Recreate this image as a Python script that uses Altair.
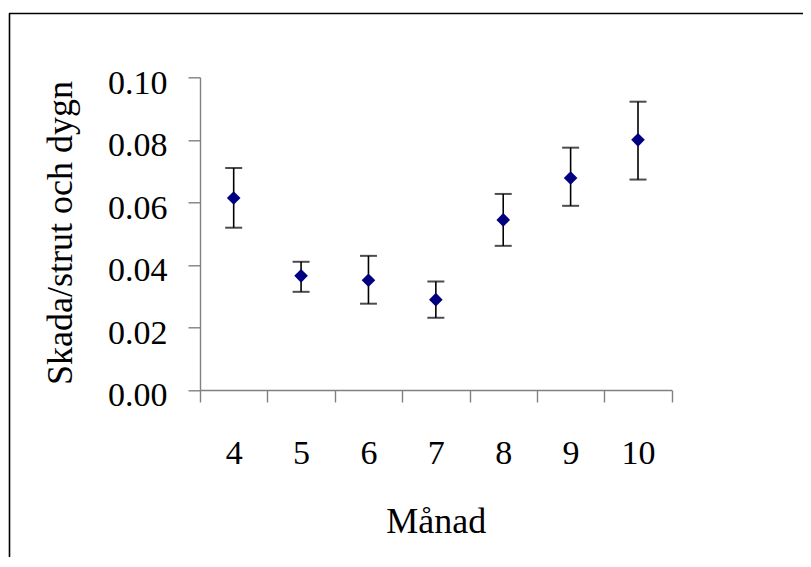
import altair as alt
import pandas as pd

months = ["4", "5", "6", "7", "8", "9", "10"]
means = [0.0614, 0.0365, 0.0351, 0.0289, 0.0544, 0.0678, 0.0800]
lows = [0.0519, 0.0314, 0.0276, 0.0231, 0.0461, 0.0589, 0.0673]
highs = [0.0710, 0.0410, 0.0429, 0.0347, 0.0627, 0.0775, 0.0922]
y_ticks = [0.0, 0.02, 0.04, 0.06, 0.08, 0.10]

df = pd.DataFrame({"month": months, "mean": means, "lo": lows, "hi": highs})

W = 471.7
H = 312.7
FONT = "Liberation Serif"

xenc = alt.X(
    "month:N",
    sort=months,
    scale=alt.Scale(type="band", paddingInner=0, paddingOuter=0),
    axis=alt.Axis(
        title="Månad",
        tickBand="extent",
        labelAngle=0,
        labelFont=FONT,
        labelFontSize=34,
        labelColor="black",
        labelBaseline="alphabetic",
        labelPadding=62,
        titleFont=FONT,
        titleFontSize=36,
        titleFontWeight="normal",
        titleColor="black",
        titleBaseline="alphabetic",
        titleY=143,
        domainColor="#808080",
        domainWidth=1.4,
        tickColor="#808080",
        tickWidth=1.4,
        tickSize=12,
        grid=False,
    ),
)

yscale = alt.Scale(domain=[0, 0.1], nice=False, zero=True)
yaxis = alt.Axis(
    title="Skada/strut och dygn",
    values=y_ticks,
    format=".2f",
    labelFont=FONT,
    labelFontSize=34,
    labelColor="black",
    labelAlign="right",
    labelBaseline="alphabetic",
    labelOffset=16,
    labelPadding=21,
    titleFont=FONT,
    titleFontSize=36,
    titleFontWeight="normal",
    titleColor="black",
    titleAngle=270,
    titleAlign="center",
    titleBaseline="alphabetic",
    titleX=-128.5,
    titleY=155.2,
    domainColor="#808080",
    domainWidth=1.4,
    tickColor="#808080",
    tickWidth=1.4,
    tickSize=12,
    grid=False,
)

base = alt.Chart(df)

bars = base.mark_rule(color="black", strokeWidth=1.6).encode(
    x=xenc,
    y=alt.Y("lo:Q", scale=yscale, axis=yaxis),
    y2="hi:Q",
)
cap_lo = base.mark_tick(color="black", size=17, thickness=2).encode(
    x=alt.X("month:N", sort=months), y=alt.Y("lo:Q")
)
cap_hi = base.mark_tick(color="black", size=17, thickness=2).encode(
    x=alt.X("month:N", sort=months), y=alt.Y("hi:Q")
)
pts = base.mark_point(shape="diamond", filled=True, color="#000080", size=185, opacity=1).encode(
    x=alt.X("month:N", sort=months), y=alt.Y("mean:Q")
)

frame_data = alt.Data(values=[{"a": 1}])
frame_v = alt.Chart(frame_data).mark_rule(color="black", strokeWidth=1.6).encode(
    x=alt.value(-190.5), y=alt.value(-64), y2=alt.value(500)
)
frame_h = alt.Chart(frame_data).mark_rule(color="black", strokeWidth=1.6).encode(
    x=alt.value(-191), x2=alt.value(620), y=alt.value(-63.8)
)

chart = (
    alt.layer(bars, cap_lo, cap_hi, pts, frame_v, frame_h)
    .properties(
        width=W,
        height=H,
        autosize=alt.AutoSizeParams(type="none"),
        padding={"left": 192, "top": 69.3, "right": 131, "bottom": 167},
        background="white",
    )
    .configure_view(stroke=None)
)

chart.save("out.html", embed_options={"renderer": "svg", "actions": False})
